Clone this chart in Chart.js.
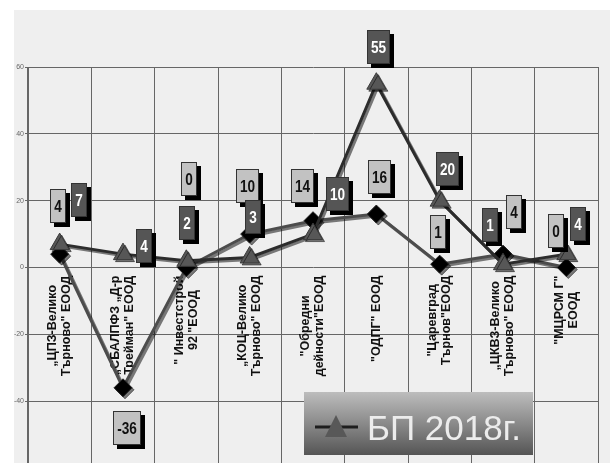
<!DOCTYPE html>
<html>
<head>
<meta charset="utf-8">
<script src="https://cdn.jsdelivr.net/npm/chart.js@4/dist/chart.umd.min.js"></script>
<style>
  html, body { margin: 0; padding: 0; background: #fff; overflow: hidden; }
  #wrap { position: relative; width: 610px; height: 480px; }
</style>
</head>
<body>
<div id="wrap"><canvas id="chart" width="610" height="480"></canvas></div>
<script>
// companies (two-line labels as drawn in the original)
const categories = [
  ["„ЦПЗ-Велико", "Търново\" ЕООД"],
  ["„СБАЛПФЗ „Д-р", "Трейман\" ЕООД"],
  ["\" Инвестстрой", "92 \"ЕООД"],
  ["„КОЦ-Велико", "Търново\" ЕООД"],
  ["\"Обредни", "дейности\"ЕООД"],
  ["\"ОДПГ\" ЕООД"],
  ["\"Царевград", "Търнов\"ЕООД"],
  ["„ЦКВЗ-Велико", "Търново\" ЕООД"],
  ["\"МЦРСМ Г\"", "ЕООД"]
];
const planName = "БП 2018г.";
const planValues = [7, 4, 2, 3, 10, 55, 20, 1, 4];
const reportName = "Отчет 2018г.";
const reportValues = [4, -36, 0, 10, 14, 16, 1, 4, 0];
const yMin = -60, yMax = 60, yStep = 20;

// where each value tag sits relative to its point (px), dragged by hand in the original
const planTagShift = [[19,-44],[21,-8],[1,-38],[3,-40],[24,-40],[2,-37],[8,-32],[-13,-39],[12,-30]];
const reportTagShift = [[-2,-48],[4,40],[3,-89],[-2,-48],[-11,-35],[3,-37],[-2,-32],[11,-42],[-10,-37]];

function drawTag(ctx, cx, cy, text, dark) {
  ctx.save();
  ctx.font = 'bold 17px "Liberation Sans", Arial, sans-serif';
  const tw = ctx.measureText(text).width * 0.8;
  const w = Math.round(tw + 8), h = 34;
  const x = Math.round(cx - w / 2), y = Math.round(cy - h / 2);
  ctx.fillStyle = "#000";
  ctx.fillRect(x + 4, y + 4, w, h);
  ctx.fillStyle = dark ? "#555" : "#c2c2c2";
  ctx.fillRect(x, y, w, h);
  ctx.strokeStyle = "#333";
  ctx.lineWidth = 1;
  ctx.strokeRect(x + 0.5, y + 0.5, w - 1, h - 1);
  ctx.translate(x + w / 2, y + h / 2 + 1);
  ctx.scale(0.8, 1);
  ctx.fillStyle = dark ? "#fff" : "#111";
  ctx.textAlign = "center";
  ctx.textBaseline = "middle";
  ctx.fillText(text, 0, 0);
  ctx.restore();
}

const backdrop = {
  id: "backdrop",
  beforeDraw(chart) {
    const ctx = chart.ctx;
    ctx.save();
    ctx.fillStyle = "#efefef";
    ctx.fillRect(14, 10, chart.width - 14, chart.height - 10);
    ctx.restore();
  }
};

const xLabels = {
  id: "xLabels",
  beforeDatasetsDraw(chart) {
    const ctx = chart.ctx;
    const xs = chart.scales.x, ys = chart.scales.y;
    const top = ys.getPixelForValue(0) + 8;
    const lineH = 14;
    ctx.save();
    ctx.font = 'bold 12.5px "Liberation Sans", Arial, sans-serif';
    ctx.fillStyle = "#111";
    ctx.textAlign = "center";
    ctx.textBaseline = "middle";
    categories.forEach((lines, i) => {
      const maxW = Math.max(...lines.map(l => ctx.measureText(l).width));
      ctx.save();
      ctx.translate(xs.getPixelForValue(i), top + maxW / 2);
      ctx.rotate(-Math.PI / 2);
      lines.forEach((l, k) => {
        ctx.fillText(l, 0, (k - (lines.length - 1) / 2) * lineH);
      });
      ctx.restore();
    });
    ctx.restore();
  }
};

const shadows = {
  id: "shadows",
  beforeDatasetDraw(chart) {
    const ctx = chart.ctx;
    ctx.save();
    ctx.shadowColor = "rgba(0,0,0,0.5)";
    ctx.shadowOffsetX = 2;
    ctx.shadowOffsetY = 2;
  },
  afterDatasetDraw(chart) {
    chart.ctx.restore();
  }
};

const tags = {
  id: "tags",
  afterDatasetsDraw(chart) {
    const ctx = chart.ctx;
    const sets = [[1, reportValues, reportTagShift, false], [0, planValues, planTagShift, true]];
    sets.forEach(([di, vals, shift, dark]) => {
      const pts = chart.getDatasetMeta(di).data;
      vals.forEach((v, i) => {
        drawTag(ctx, pts[i].x + shift[i][0], pts[i].y + shift[i][1], String(v), dark);
      });
    });
  }
};

const legendBox = {
  id: "legendBox",
  afterDraw(chart) {
    const ctx = chart.ctx;
    const x = 304, y = 392, w = 229, h = 63;
    ctx.save();
    const g = ctx.createLinearGradient(0, y, 0, y + h);
    g.addColorStop(0, "#bdbdbd");
    g.addColorStop(0.5, "#8a8a8a");
    g.addColorStop(1, "#555");
    ctx.fillStyle = g;
    ctx.fillRect(x, y, w, h);
    ctx.strokeStyle = "#1e1e1e";
    ctx.lineWidth = 3;
    ctx.beginPath();
    ctx.moveTo(x + 11, y + 35);
    ctx.lineTo(x + 54, y + 35);
    ctx.stroke();
    ctx.fillStyle = "#585858";
    ctx.beginPath();
    ctx.moveTo(x + 32, y + 23);
    ctx.lineTo(x + 43, y + 45);
    ctx.lineTo(x + 21, y + 45);
    ctx.closePath();
    ctx.fill();
    ctx.fillStyle = "#ececec";
    ctx.font = '35px "Liberation Sans", Arial, sans-serif';
    ctx.textBaseline = "alphabetic";
    ctx.fillText(planName, x + 63, y + 48);
    ctx.restore();
  }
};

new Chart(document.getElementById("chart"), {
  type: "line",
  data: {
    labels: categories.map(c => c.join(" ")),
    datasets: [
      {
        label: planName,
        data: planValues,
        borderColor: "#2c2c2c",
        borderWidth: 3,
        pointStyle: "triangle",
        pointRadius: 11,
        pointBackgroundColor: "#575757",
        pointBorderColor: "#3a3a3a",
        pointBorderWidth: 1,
        tension: 0,
        clip: false
      },
      {
        label: reportName,
        data: reportValues,
        borderColor: "#4c4c4c",
        borderWidth: 3,
        pointStyle: "rectRot",
        pointRadius: 9,
        pointBackgroundColor: "#000",
        pointBorderColor: "#222",
        pointBorderWidth: 1,
        tension: 0,
        clip: false
      }
    ]
  },
  options: {
    responsive: false,
    animation: false,
    layout: { padding: { top: 67, right: 9, bottom: 11, left: 0 } },
    plugins: {
      legend: { display: false },
      tooltip: { enabled: false }
    },
    scales: {
      x: {
        offset: true,
        afterFit(scale) { scale.height = 0; },
        grid: { offset: true, color: "#666", lineWidth: 1, drawTicks: false },
        border: { display: false },
        ticks: { display: false }
      },
      y: {
        min: yMin,
        max: yMax,
        afterFit(scale) { scale.width = 28; },
        ticks: {
          stepSize: yStep,
          padding: 1,
          color: "#666",
          font: { size: 7, family: '"Liberation Sans", Arial, sans-serif' }
        },
        grid: { color: "#666", lineWidth: 1, tickLength: 3 },
        border: { color: "#666" }
      }
    }
  },
  plugins: [backdrop, xLabels, shadows, tags, legendBox]
});
</script>
</body>
</html>
